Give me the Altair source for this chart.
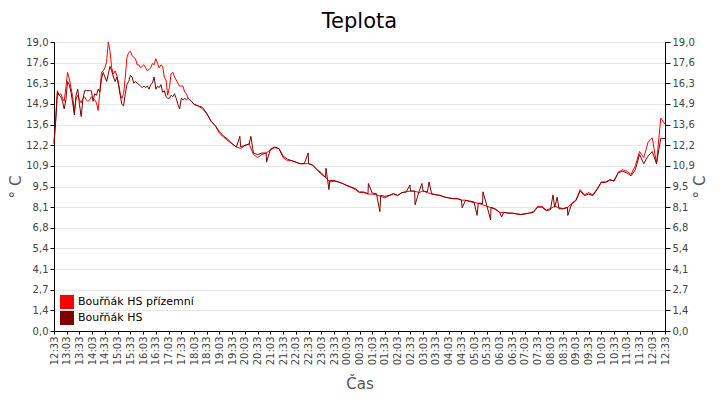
import altair as alt
import pandas as pd

# sample times in minutes after 12:33 (denser in the noisy afternoon part)
minutes = list(range(0, 328, 4)) + list(range(330, 1441, 10))

hs_prizemni = [
    12.4, 13.9, 15.8, 15.5, 15.6, 15.3, 15.1, 16.0, 17.0, 16.6,
    16.0, 15.4, 14.4, 15.3, 15.5, 15.2, 15.0, 15.3, 15.4, 15.2,
    15.1, 15.2, 15.4, 15.3, 15.2, 15.0, 14.5, 15.7, 17.0, 17.1,
    17.3, 17.7, 19.0, 18.4, 17.3, 16.9, 17.1, 16.8, 16.3, 15.6,
    15.3, 15.6, 16.7, 18.0, 18.3, 18.4, 18.1, 18.0, 17.9, 17.5,
    17.5, 17.3, 17.4, 17.5, 17.3, 17.1, 17.2, 17.3, 17.6, 17.5,
    17.9, 17.6, 17.3, 17.5, 17.4, 16.7, 16.5, 15.5, 16.0, 16.9,
    17.0, 16.7, 16.5, 16.3, 16.1, 16.1, 16.1, 15.7, 15.6, 15.3,
    15.2, 15.1,
    14.9, 14.8, 14.6, 14.3, 13.8, 13.5, 13.0, 12.75, 12.5, 12.3,
    12.1, 12.0, 12.2, 12.3, 11.6, 11.4, 11.6, 11.7, 11.9, 12.05,
    12.0, 11.4, 11.2, 11.2, 11.1, 11.0, 11.0, 11.0, 10.9, 10.6,
    10.3, 10.1, 9.8, 9.85, 9.8,
    9.7, 9.55, 9.45, 9.3, 9.1, 9.1, 9.0, 9.0, 8.95, 8.85,
    8.75, 8.9, 9.0, 8.9, 9.1, 9.15, 9.2, 9.2, 9.1, 9.2,
    9.1, 9.0, 8.95, 8.9, 8.8, 8.75, 8.7, 8.7, 8.6, 8.6,
    8.5, 8.45, 8.4, 8.3, 8.2, 8.1, 8.0, 7.8, 7.8, 7.75,
    7.75, 7.7, 7.65, 7.7, 7.75, 7.85, 8.2, 8.2, 7.95, 8.05,
    8.2, 8.1, 8.05, 8.1, 8.4, 8.6, 9.3, 8.95, 9.1, 8.95,
    9.35, 9.8, 9.8, 9.95, 9.85, 10.45, 10.6, 10.5, 10.3, 10.86,
    11.8, 11.4, 12.4, 12.7, 11.0, 14.0, 13.6,
]

hs = [
    12.3, 13.8, 15.7, 15.5, 15.4, 15.1, 14.6, 15.2, 16.4, 16.2,
    15.7, 15.0, 14.2, 15.5, 15.9, 14.9, 14.1, 15.2, 15.8, 15.8,
    15.8, 15.8, 15.8, 15.1, 15.6, 15.5, 15.9, 15.7, 16.6, 17.0,
    16.7, 16.4, 16.9, 17.4, 17.1, 16.7, 16.4, 16.7, 16.2, 15.5,
    14.9, 14.8, 15.6, 16.2, 16.4, 16.8, 16.7, 16.3, 16.4, 16.3,
    16.2, 16.1, 16.0, 16.1, 16.0, 16.1, 15.9, 16.2, 16.3, 16.7,
    15.9, 16.1, 16.0, 16.2, 15.7, 15.8, 15.4, 15.3, 15.3, 15.5,
    15.4, 15.6, 15.3, 14.9, 14.6, 15.3, 15.2, 15.3, 15.2, 15.3,
    15.2, 15.1,
    14.9, 14.8, 14.7, 14.3, 13.8, 13.5, 13.1, 12.8, 12.6, 12.3,
    12.1, 12.1, 12.2, 12.3, 11.7, 11.6, 11.7, 11.7, 11.95, 12.1,
    12.0, 11.5, 11.3, 11.2, 11.1, 11.0, 11.0, 11.0, 10.9, 10.6,
    10.4, 10.1, 9.9, 9.9, 9.8,
    9.7, 9.58, 9.47, 9.36, 9.14, 9.14, 9.03, 9.07, 9.03, 8.92,
    8.85, 8.92, 9.03, 8.92, 9.1, 9.14, 9.2, 9.2, 9.14, 9.2,
    9.14, 9.03, 8.96, 8.92, 8.81, 8.76, 8.7, 8.7, 8.63, 8.59,
    8.54, 8.48, 8.41, 8.37, 8.26, 8.14, 8.03, 7.81, 7.81, 7.75,
    7.75, 7.7, 7.66, 7.7, 7.75, 7.8, 8.14, 8.14, 7.92, 7.97,
    8.14, 8.03, 8.03, 8.14, 8.36, 8.57, 9.2, 8.9, 9.0, 8.9,
    9.3, 9.77, 9.77, 9.92, 9.88, 10.4, 10.5, 10.4, 10.2, 10.6,
    11.6, 11.0, 11.5, 11.8, 11.0, 12.66, 12.66,
]

# short single-reading spikes of the HS sensor
hs_spike_min = [438, 464, 501, 599, 641, 648, 741, 768, 839, 851,
                867, 884, 962, 997, 1011, 1029, 1055, 1176, 1186, 1211]
hs_spike_val = [12.8, 12.8, 11.1, 11.7, 10.7, 9.3, 9.7, 7.85, 9.6, 8.3,
                9.7, 9.8, 8.1, 7.6, 9.15, 7.3, 7.5, 8.95, 8.8, 7.6]

series_names = ["Bouřňák HS přízemní", "Bouřňák HS"]
series_colors = ["#ff0000", "#800000"]

y_ticks = [19 * i / 14 for i in range(15)]
x_ticks = list(range(0, 1441, 30))

df = pd.concat([
    pd.DataFrame({"min": minutes, "temp": hs_prizemni, "series": series_names[0]}),
    pd.DataFrame({"min": minutes + hs_spike_min, "temp": hs + hs_spike_val,
                  "series": series_names[1]}),
])

FONT = "DejaVu Sans"
y_label = "replace(format(datum.value, '.1f'), '.', ',')"

color_scale = alt.Scale(domain=series_names, range=series_colors)
legend = alt.Legend(
    title=None, orient="bottom-left", offset=6, padding=0,
    symbolType="square", symbolSize=196, symbolStrokeWidth=0, symbolOpacity=1,
    labelFont=FONT, labelFontSize=11, labelColor="black", rowPadding=2,
)

x = alt.X(
    "min:Q", scale=alt.Scale(domain=[0, 1440], nice=False, zero=False),
    axis=alt.Axis(values=x_ticks, grid=False, labelAngle=-90, tickSize=3,
                  labelExpr="timeFormat(datetime(2024, 0, 1, 12, 33 + datum.value), '%H:%M')",
                  title="Čas", titlePadding=12),
)
y_scale = alt.Scale(domain=[0, 19], nice=False, zero=True)

# legend only: filled squares, no rows drawn
key = (
    alt.Chart(df)
    .mark_square(filled=True, opacity=1)
    .encode(x=x, color=alt.Color("series:N", scale=color_scale, legend=legend))
    .transform_filter(alt.datum.temp > 100)
)

base = alt.Chart(df).mark_line(strokeWidth=1).encode(
    x=x, color=alt.Color("series:N", scale=color_scale, legend=None)
)

ground = base.transform_filter(alt.datum.series == series_names[0]).encode(
    y=alt.Y("temp:Q", scale=y_scale,
            axis=alt.Axis(values=y_ticks, labelExpr=y_label, grid=True, tickSize=4,
                          orient="left", title="° C", titlePadding=2))
)
roof = base.transform_filter(alt.datum.series == series_names[1]).encode(
    y=alt.Y("temp:Q", scale=y_scale,
            axis=alt.Axis(values=y_ticks, labelExpr=y_label, grid=False, orient="right",
                          tickSize=5, title="° C", titleAngle=270, titlePadding=13))
)

chart = (
    alt.layer(key, ground, roof)
    .resolve_axis(y="independent")
    .properties(
        width=611, height=289, autosize="none",
        padding={"left": 46, "top": 34, "right": 47, "bottom": 61},
        title=alt.Title("Teplota", font=FONT, fontSize=21, fontWeight="normal",
                        color="black", offset=5),
    )
    .configure_view(stroke="black", strokeWidth=1)
    .configure_axis(
        labelFont=FONT, labelFontSize=10, labelColor="#444444",
        titleFont=FONT, titleFontSize=15, titleFontWeight="normal", titleColor="#555555",
        domainColor="black", tickColor="black", gridColor="#e8e8e8",
        labelPadding=2,
    )
)

chart.save("out.html", embed_options={"renderer": "svg", "actions": False})
